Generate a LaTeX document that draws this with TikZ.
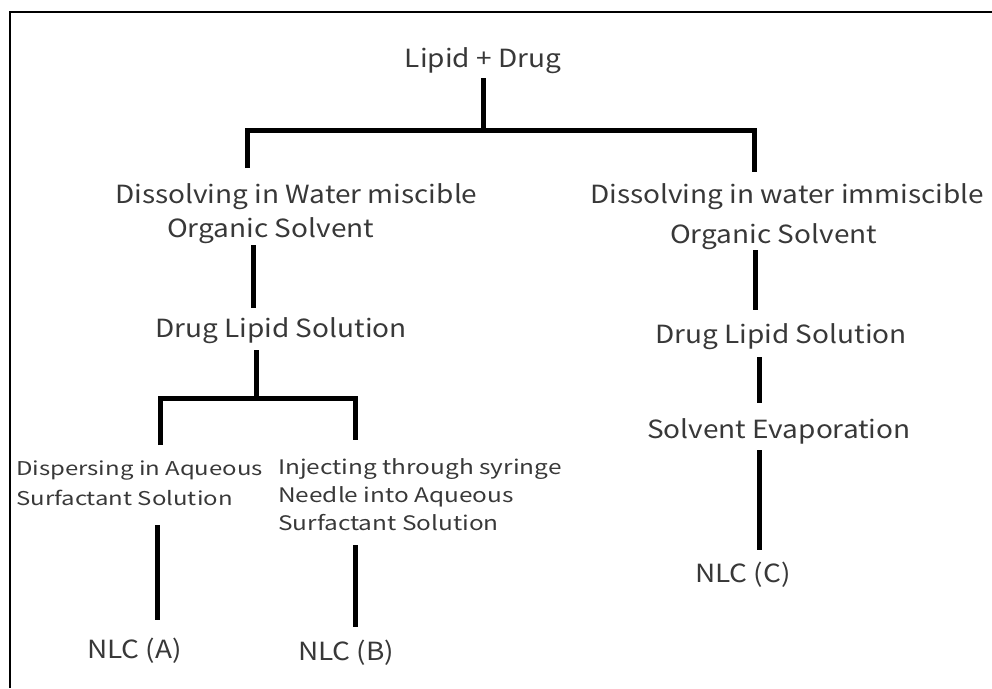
\documentclass[tikz,border=0pt]{standalone}
\usepackage{fontspec}
\setmainfont[FakeStretch=1.12]{Noto Sans CJK JP}
\newfontfamily\narrowlabel[FakeStretch=1.26]{Noto Sans CJK JP}
\newfontfamily\injectlabel[FakeStretch=1.22]{Noto Sans CJK JP}
\begin{document}
\begin{tikzpicture}[x=1pt,y=-1pt,
  every node/.style={inner sep=0pt, text=black!78, anchor=base west},
  big/.style={font=\fontsize{25}{34}\selectfont, align=left},
  small/.style={font=\narrowlabel\fontsize{19}{30}\selectfont, align=left},
  link/.style={line width=5pt, line join=miter}]
\useasboundingbox (0,0) rectangle (992,688);
\draw[line width=2pt] (10,688) -- (10,12) -- (992,12);
% nodes (multi-line nodes are placed by the baseline of their last line)
\node[big, anchor=base] (top) at (483,67) {Lipid + Drug};
\node[big] (l1) at (115,237) {Dissolving in Water miscible\\\hspace*{52pt}Organic Solvent};
\node[big, font=\fontsize{25}{40}\selectfont] (r1) at (590,243) {Dissolving in water immiscible\\\hspace*{80pt}Organic Solvent};
\node[big] (l2) at (155,337) {Drug Lipid Solution};
\node[big] (r2) at (655,343) {Drug Lipid Solution};
\node[big] (r3) at (647,438) {Solvent Evaporation};
\node[big] (r4) at (695,582) {NLC (C)};
\node[small] (a1) at (16,505) {Dispersing in Aqueous\\Surfactant Solution};
\node[small, font=\injectlabel\fontsize{20}{28}\selectfont] (b1) at (278,530) {Injecting through syringe\\Needle into Aqueous\\Surfactant Solution};
\node[big] (a2) at (87,658) {NLC (A)};
\node[big] (b2) at (298,660) {NLC (B)};
% junction coordinates
\coordinate (t0) at (483,78);
\coordinate (t1) at (483,130);
\coordinate (l1top) at (247,168);
\coordinate (r1top) at (754,172);
\coordinate (l1bot) at (253,245);
\coordinate (l2top) at (253,308);
\coordinate (l2bot) at (256,350);
\coordinate (l2j) at (256,398);
\coordinate (a1top) at (160,445);
\coordinate (b1top) at (355,440);
\coordinate (a1bot) at (157,525);
\coordinate (a2top) at (157,620);
\coordinate (b1bot) at (355,545);
\coordinate (b2top) at (355,627);
\coordinate (r1bot) at (755,250);
\coordinate (r2top) at (755,310);
\coordinate (r2bot) at (759,357);
\coordinate (r3top) at (759,403);
\coordinate (r3bot) at (759,450);
\coordinate (r4top) at (759,550);
% connectors
\draw[link] (t0) -- (t1);
\draw[link] (l1top) |- (t1) -| (r1top);
\draw[link] (l1bot) -- (l2top);
\draw[link] (l2bot) -- (l2j);
\draw[link] (a1top) |- (l2j) -| (b1top);
\draw[link] (a1bot) -- (a2top);
\draw[link] (b1bot) -- (b2top);
\draw[link] (r1bot) -- (r2top);
\draw[link] (r2bot) -- (r3top);
\draw[link] (r3bot) -- (r4top);
\end{tikzpicture}
\end{document}
